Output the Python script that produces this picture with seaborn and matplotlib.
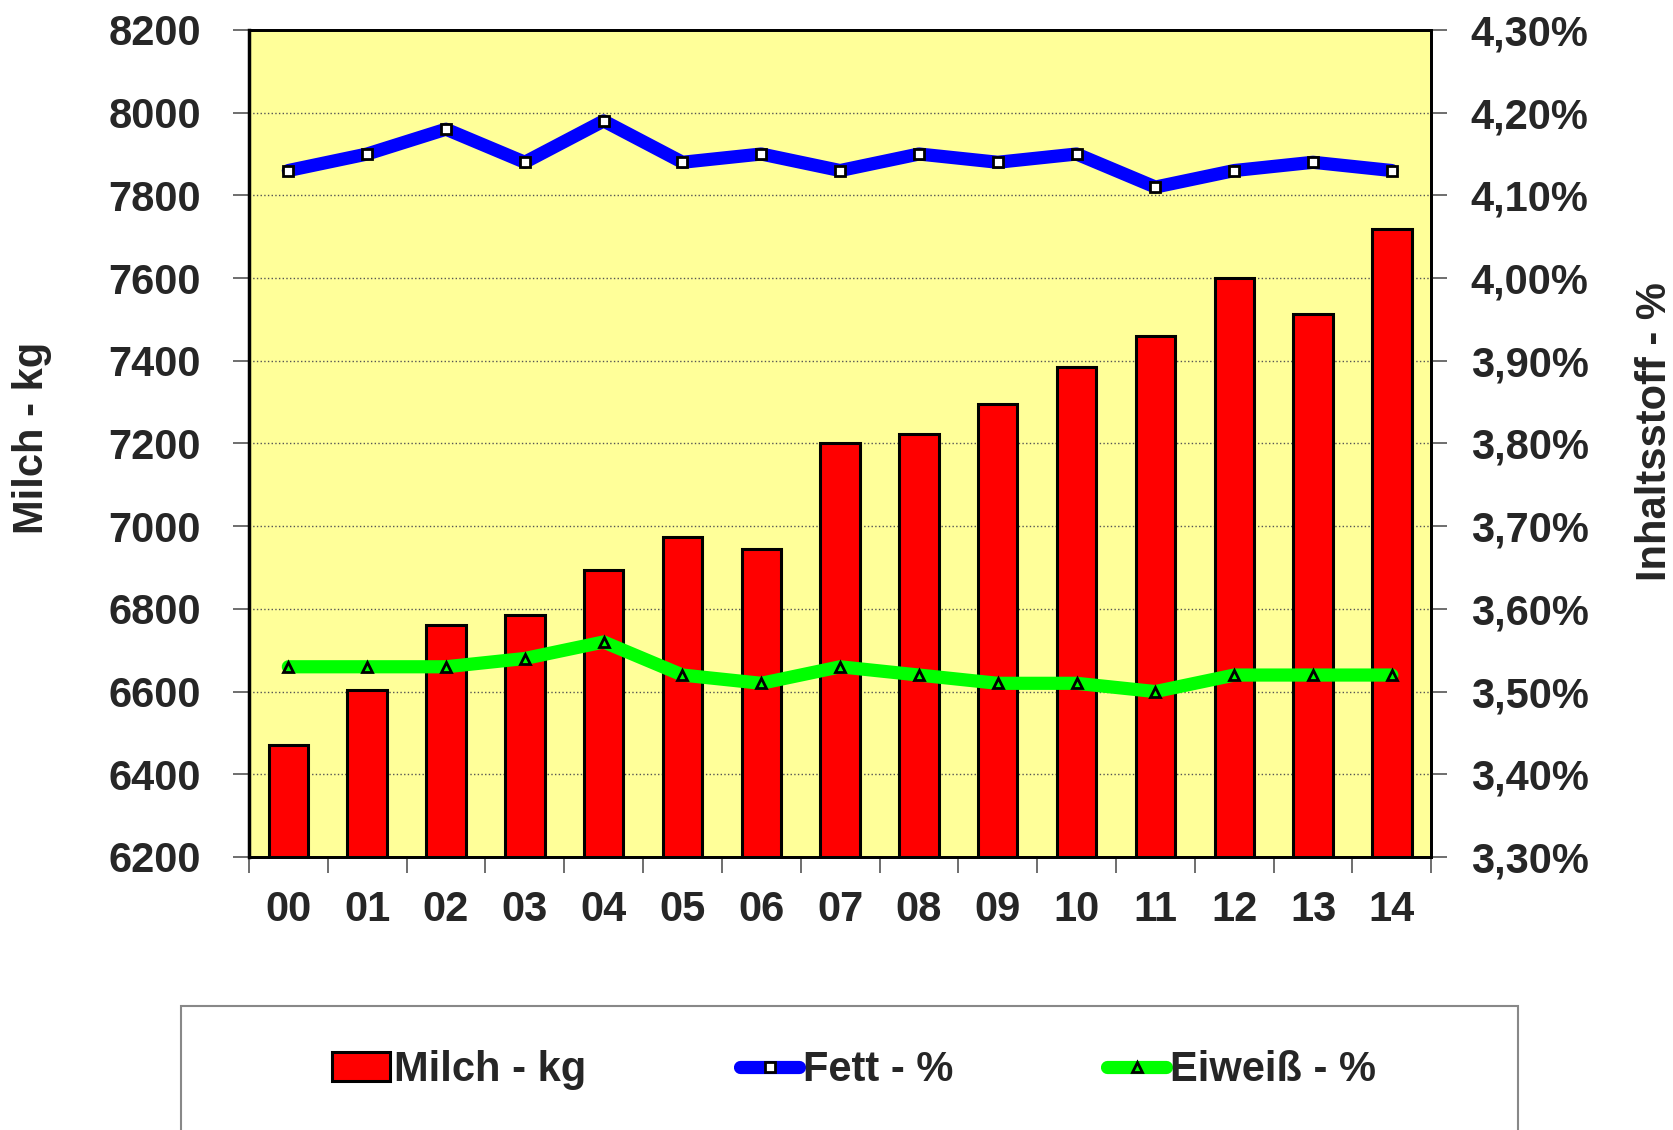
import numpy as np
import matplotlib
matplotlib.use("Agg")
import matplotlib.pyplot as plt
import seaborn as sns
from matplotlib.patches import Rectangle
from matplotlib.ticker import FuncFormatter, MultipleLocator, FixedLocator

# Daten
jahre = ["00", "01", "02", "03", "04", "05", "06", "07", "08", "09", "10", "11", "12", "13", "14"]
milch_kg = [6470, 6605, 6760, 6785, 6895, 6975, 6945, 7200, 7222, 7295, 7385, 7460, 7600, 7512, 7718]
fett = [4.13, 4.15, 4.18, 4.14, 4.19, 4.14, 4.15, 4.13, 4.15, 4.14, 4.15, 4.11, 4.13, 4.14, 4.13]
eiweiss = [3.53, 3.53, 3.53, 3.54, 3.56, 3.52, 3.51, 3.53, 3.52, 3.51, 3.51, 3.50, 3.52, 3.52, 3.52]

sns.set_style("white")
plt.rcParams['font.family'] = ['Liberation Sans', 'DejaVu Sans']
plt.rcParams['font.weight'] = 'bold'

fig = plt.figure(figsize=(16.74, 11.30), dpi=100)
ax = fig.add_axes([0.1487, 0.2416, 0.7063, 0.7319])
ax.set_facecolor("#FFFF99")

sns.barplot(x=jahre, y=milch_kg, ax=ax, color="#FF0000", saturation=1,
            width=0.5, edgecolor="black", linewidth=2.2, label="Milch - kg")
ax.set_ylim(6200, 8200)
ax.yaxis.set_major_locator(MultipleLocator(200))
ax.set_xlim(-0.5, len(jahre) - 0.5)
ax.set_axisbelow(True)
ax.yaxis.grid(True, linestyle=":", color="#555555", linewidth=1)

ax2 = ax.twinx()
ax2.patch.set_visible(False)
pos = np.arange(len(jahre))
sns.lineplot(x=pos, y=fett, ax=ax2, color="#0000FF", linewidth=9.5,
             solid_capstyle="round", marker="s", markersize=7,
             markerfacecolor="white", markeredgecolor="black", markeredgewidth=2,
             label="Fett - %")
sns.lineplot(x=pos, y=eiweiss, ax=ax2, color="#00FF00", linewidth=9.5,
             solid_capstyle="round", marker="^", markersize=7,
             markerfacecolor="#00FF00", markeredgecolor="black", markeredgewidth=2,
             label="Eiweiß - %")
ax2.set_ylim(3.30, 4.30)
ax2.yaxis.set_major_locator(MultipleLocator(0.1))
ax2.yaxis.set_major_formatter(FuncFormatter(lambda v, p: f"{v:.2f}%".replace(".", ",")))
ax2.set_xlim(-0.5, len(jahre) - 0.5)

# Achsen / Ticks
for a in (ax, ax2):
    for s in a.spines.values():
        s.set_color("black")
        s.set_linewidth(2)
ax.spines["left"].set_linewidth(2.5)

ax.tick_params(axis="y", left=True, length=11.5, width=1.2, color="#555555",
               pad=23, labelsize=30)
ax.set_xticks(pos)
ax.set_xticklabels(jahre)
ax.xaxis.set_minor_locator(FixedLocator(np.arange(-0.5, len(jahre), 1.0)))
ax.tick_params(axis="x", which="major", length=0, pad=24, labelsize=30)
ax.tick_params(axis="x", which="minor", bottom=True, length=11.5, width=1.2, color="#555555")
ax2.tick_params(axis="y", right=True, length=11.5, width=1.2, color="#555555",
                pad=17, labelsize=30)

for lab in ax.get_yticklabels() + ax.get_xticklabels() + ax2.get_yticklabels():
    lab.set_fontweight("bold")

ax.set_ylabel("Milch - kg", fontsize=30, fontweight="bold", va="center")
ax.yaxis.set_label_coords(-0.1836, 0.507)
ax2.set_ylabel("Inhaltsstoff - %", fontsize=30, fontweight="bold", va="center", rotation=90)
ax2.yaxis.set_label_coords(1.1895, 0.514)

# Legende
h1, l1 = ax.get_legend_handles_labels()
h2, l2 = ax2.get_legend_handles_labels()
if ax2.get_legend():
    ax2.get_legend().remove()
if ax.get_legend():
    ax.get_legend().remove()

fig.patches.append(Rectangle((0.108, -0.02), 0.799, 0.1297, transform=fig.transFigure,
                             facecolor="white", edgecolor="#888888", linewidth=1.5))
fig.legend(h1 + h2, l1 + l2, loc="center", bbox_to_anchor=(0.51, 0.053), ncol=3,
           frameon=False, prop={"size": 30, "weight": "bold"},
           handlelength=1.4, handletextpad=0.1, columnspacing=3.7)

fig.savefig("out.png", dpi=100)
